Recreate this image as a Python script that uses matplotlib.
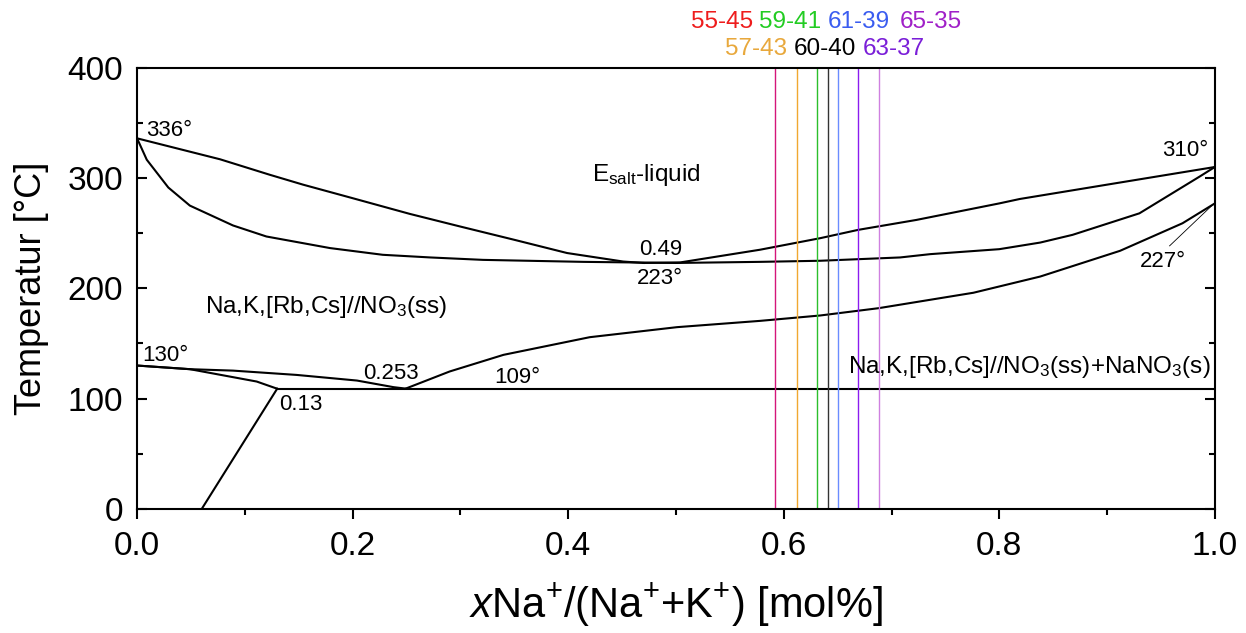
import matplotlib
matplotlib.use("Agg")
import matplotlib.pyplot as plt
from matplotlib.ticker import MultipleLocator

plt.rcParams["font.family"] = ["Liberation Sans", "DejaVu Sans"]
plt.rcParams["mathtext.fontset"] = "custom"
plt.rcParams["mathtext.rm"] = "Liberation Sans"
plt.rcParams["mathtext.it"] = "Liberation Sans:italic"

# liquidus, K-rich branch (336 deg -> minimum)
liq_k_x = [0.0, 0.077, 0.123, 0.154, 0.199, 0.253, 0.30, 0.35, 0.399, 0.451, 0.47]
liq_k_y = [336, 317, 303, 294, 282, 267.5, 256, 244, 232, 224.3, 223]
# liquidus, Na-rich branch (minimum -> 310 deg)
liq_na_x = [0.47, 0.504, 0.578, 0.634, 0.669, 0.723, 0.80, 0.819, 0.90, 1.0]
liq_na_y = [223, 223.5, 235, 245.5, 253, 262, 277, 281, 294, 310]
# solidus of the high-temperature solid solution
sol_x = [0.0, 0.009, 0.029, 0.049, 0.089, 0.12, 0.179, 0.228, 0.272, 0.321, 0.414,
         0.5, 0.578, 0.634, 0.708, 0.736, 0.80, 0.838, 0.868, 0.93, 0.986, 1.0]
sol_y = [336, 316.6, 291.4, 275, 257, 247, 236.5, 230.4, 228, 225.8, 224,
         223, 224, 225, 228, 231, 235.5, 241.5, 248.5, 268, 301.4, 310]
# low-temperature boundaries (K-rich side)
low_a_x = [0.0, 0.049, 0.089, 0.148, 0.204, 0.238, 0.25]
low_a_y = [130, 126.7, 125.4, 121.5, 116.4, 110.4, 109]
low_b_x = [0.0, 0.049, 0.111, 0.13]
low_b_y = [130, 126.7, 115.5, 109]
solvus_x = [0.13, 0.06]
solvus_y = [109, 0]
eut_x = [0.13, 1.0]
eut_y = [109, 109]
# NaNO3 + ss boundary (0.253 -> 227 deg label point)
nano3_x = [0.249, 0.29, 0.34, 0.42, 0.501, 0.578, 0.634, 0.688, 0.776, 0.838,
           0.912, 0.97, 1.0]
nano3_y = [109, 124.6, 139.7, 155.7, 164.8, 170.5, 175.4, 182, 196, 210.7,
           234, 259, 277]

# salt mixtures (wt% NaNO3-KNO3) as mole fraction Na
mix_labels = ["55-45", "57-43", "59-41", "60-40", "61-39", "63-37", "65-35"]
mix_x = [0.592, 0.612, 0.631, 0.641, 0.650, 0.669, 0.688]
mix_line_colors = ["#d4157a", "#f0a830", "#2cbf2c", "#333333", "#6b8cff", "#8a1cf0", "#cf80e0"]
mix_text_colors = ["#ee1c1c", "#e8a83c", "#22cc22", "#000000", "#3a5cf0", "#7a1ed8", "#a020c8"]

fig = plt.figure(figsize=(12.46, 6.33), dpi=100)
ax = fig.add_axes([0.11, 0.196, 0.865, 0.697])

lw = 1.5
for xs, ys in [(liq_k_x, liq_k_y), (liq_na_x, liq_na_y), (sol_x, sol_y),
               (low_a_x, low_a_y), (low_b_x, low_b_y), (solvus_x, solvus_y),
               (eut_x, eut_y), (nano3_x, nano3_y)]:
    ax.plot(xs, ys, color="black", lw=lw, solid_joinstyle="miter")

for x, c in zip(mix_x, mix_line_colors):
    ax.axvline(x, color=c, lw=1.0)

# leader to the 227 deg point
ax.plot([0.958, 0.997], [238.5, 274.8], color="black", lw=0.6)

fs_num = 16
fs_reg = 17.5
ax.text(0.008, 338, "336°", fontsize=fs_num)
ax.text(0.005, 134.5, "130°", fontsize=fs_num)
ax.text(0.2096, 118, "0.253", fontsize=fs_num)
ax.text(0.132, 89.8, "0.13", fontsize=fs_num)
ax.text(0.331, 114.6, "109°", fontsize=fs_num)
ax.text(0.466, 230.4, "0.49", fontsize=fs_num)
ax.text(0.464, 204, "223°", fontsize=fs_num)
ax.text(0.9515, 320.2, "310°", fontsize=fs_num)
ax.text(0.93, 218.9, "227°", fontsize=fs_num)
ax.text(0.063, 177.5, "Na,K,[Rb,Cs]//NO$_3$(ss)", fontsize=fs_reg)
ax.text(0.4218, 296.9, "E$_{\\mathrm{salt}}$-liquid", fontsize=fs_reg)
ax.text(0.6596, 123, "Na,K,[Rb,Cs]//NO$_3$(ss)+NaNO$_3$(s)", fontsize=fs_reg)

# mixture labels above the frame, two rows
row1 = [(0, 690.7), (2, 759.3), (4, 827.3), (6, 900)]
row2 = [(1, 725), (3, 794), (5, 862.7)]
for i, px in row1:
    fig.text(px / 1246, 1 - 28.3 / 633, mix_labels[i], color=mix_text_colors[i],
             fontsize=17.5, va="baseline")
for i, px in row2:
    fig.text(px / 1246, 1 - 55 / 633, mix_labels[i], color=mix_text_colors[i],
             fontsize=17.5, va="baseline")

ax.set_xlim(0, 1.0)
ax.set_ylim(0, 400)
ax.xaxis.set_major_locator(MultipleLocator(0.2))
ax.xaxis.set_minor_locator(MultipleLocator(0.1))
ax.yaxis.set_major_locator(MultipleLocator(100))
ax.yaxis.set_minor_locator(MultipleLocator(50))
ax.xaxis.set_major_formatter(matplotlib.ticker.FormatStrFormatter("%.1f"))

ax.tick_params(axis="x", which="major", direction="out", length=7, width=1.5,
               labelsize=24, pad=9)
ax.tick_params(axis="x", which="minor", direction="out", length=4, width=1.5)
ax.tick_params(axis="y", which="major", direction="in", length=7, width=1.5,
               labelsize=24, pad=10, right=True)
ax.tick_params(axis="y", which="minor", direction="in", length=4, width=1.5, right=True)
for s in ax.spines.values():
    s.set_linewidth(1.5)

ax.set_xlabel("$x$Na$^{+}$/(Na$^{+}$+K$^{+}$) [mol%]", fontsize=30, labelpad=14)
ax.set_ylabel("Temperatur [°C]", fontsize=26, labelpad=13)

fig.savefig("out.png", dpi=100)
